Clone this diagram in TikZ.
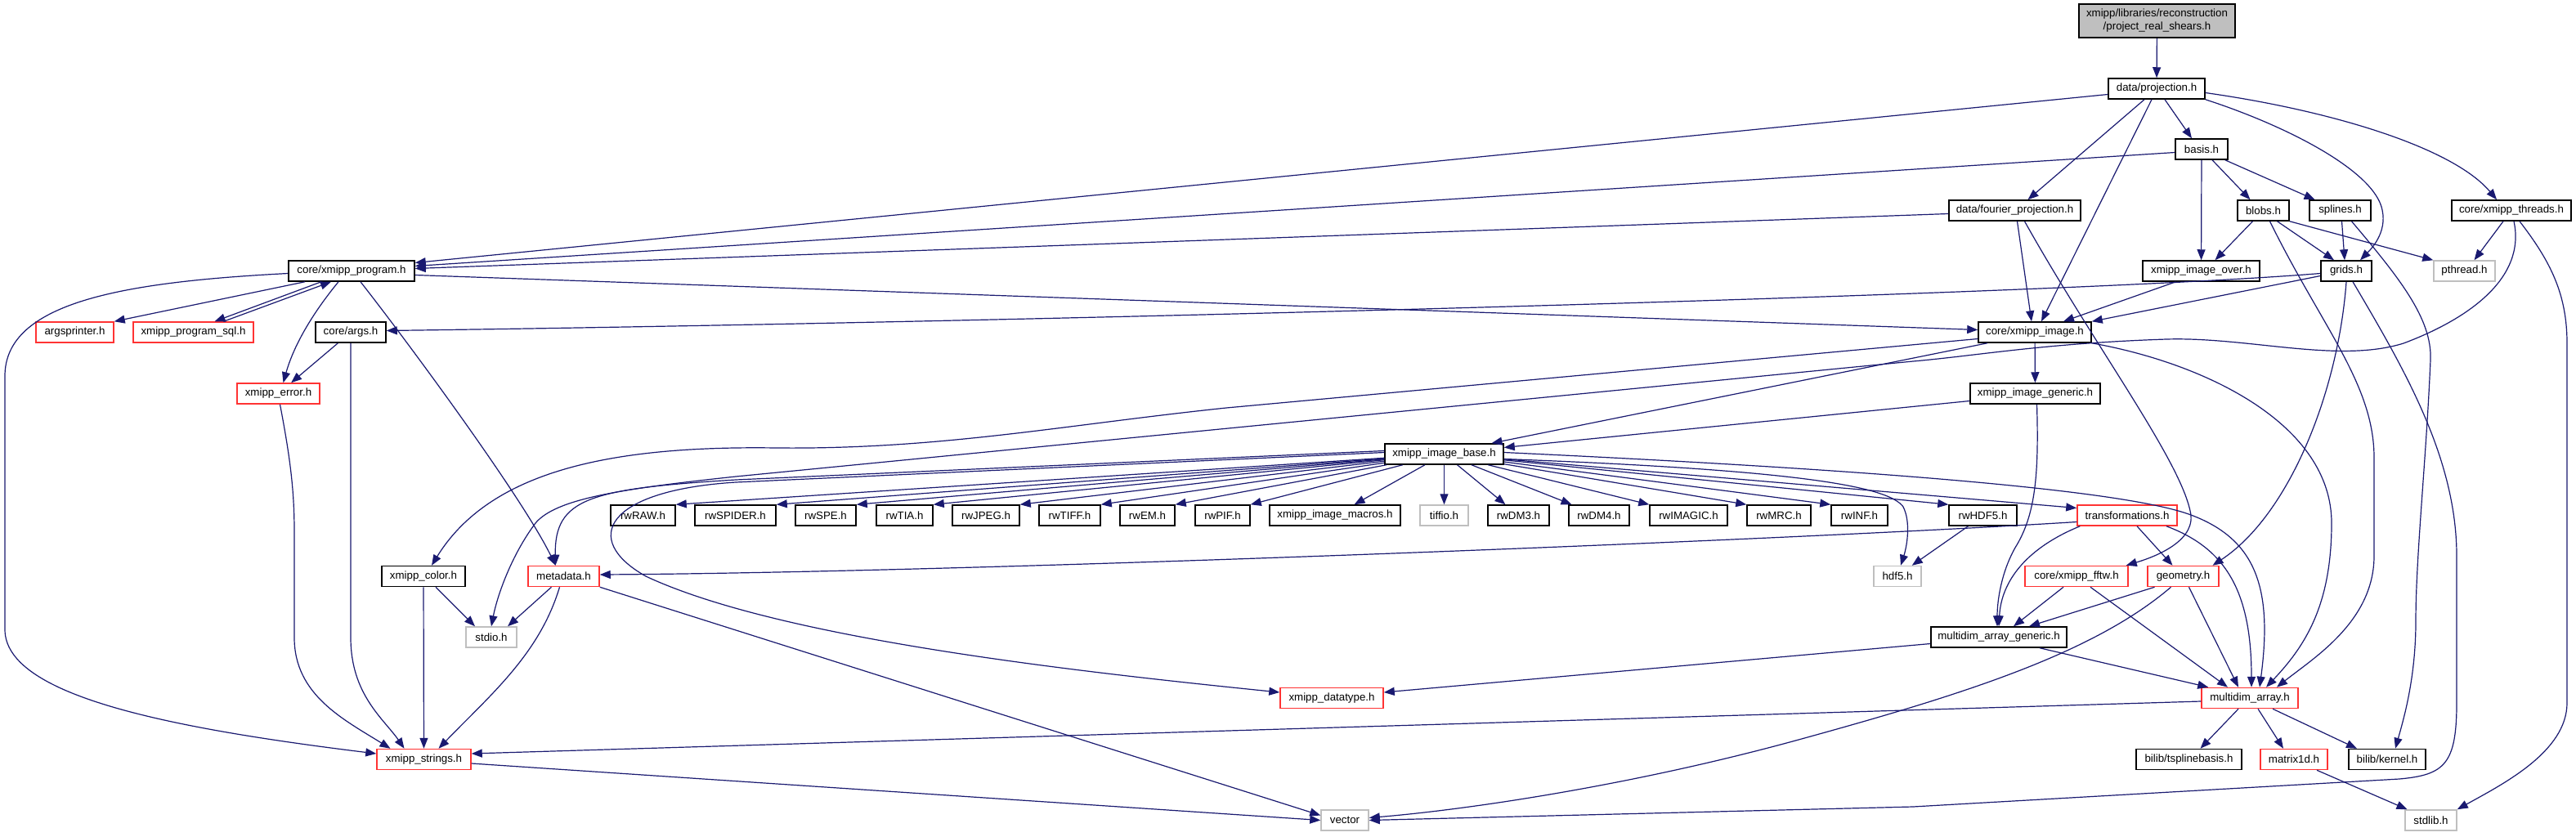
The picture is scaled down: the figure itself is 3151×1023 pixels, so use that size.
\documentclass[tikz,border=0pt]{standalone}
\usepackage{fontspec}
\setmainfont{Liberation Sans}
\usetikzlibrary{arrows.meta}
\definecolor{dxblue}{HTML}{191970}
\definecolor{dxred}{HTML}{FF3333}
\definecolor{dxgray}{HTML}{BFBFBF}
\newcommand{\dxfont}{\fontsize{13.3pt}{16pt}\selectfont}
\tikzset{
  box/.style={draw=black, line width=1.5pt, fill=white, inner sep=0pt, minimum height=25pt, font=\dxfont, text=black},
  redbox/.style={box, draw=dxred},
  sysbox/.style={box, draw=dxgray},
  rootbox/.style={box, fill=dxgray, minimum height=41pt, align=center},
  dep/.style={draw=dxblue, line width=1.2pt, -{Triangle[length=13pt,width=10pt]}}
}
\begin{document}
\begin{tikzpicture}[x=1pt,y=-1pt]
\fill[white] (0,0) rectangle (3151,1023);
\useasboundingbox (0,0) rectangle (3151,1023);
% nodes
\node[rootbox, minimum width=191pt] (root) at (2638.5,25.5) {xmipp/libraries/reconstruction\\/project\_real\_shears.h};
\node[box, minimum width=118pt] (proj) at (2638,108.5) {data/projection.h};
\node[box, minimum width=64pt] (basis) at (2693,182.5) {basis.h};
\node[box, minimum width=161pt] (fourier) at (2464.5,257.5) {data/fourier\_projection.h};
\node[box, minimum width=63pt] (blobs) at (2768.5,257.5) {blobs.h};
\node[box, minimum width=75pt] (splines) at (2862.5,257.5) {splines.h};
\node[box, minimum width=146pt] (threads) at (3072,257.5) {core/xmipp\_threads.h};
\node[box, minimum width=143pt] (over) at (2692.5,331.5) {xmipp\_image\_over.h};
\node[box, minimum width=62pt] (grids) at (2870,331.5) {grids.h};
\node[sysbox, minimum width=75pt] (pthread) at (3014.5,331.5) {pthread.h};
\node[box, minimum width=154pt] (program) at (430,331.5) {core/xmipp\_program.h};
\node[redbox, minimum width=95pt] (argsprinter) at (91.5,406.5) {argsprinter.h};
\node[redbox, minimum width=147pt] (sql) at (236.5,406.5) {xmipp\_program\_sql.h};
\node[box, minimum width=86pt] (args) at (429,406.5) {core/args.h};
\node[box, minimum width=138pt] (image) at (2489,406.5) {core/xmipp\_image.h};
\node[redbox, minimum width=101pt] (error) at (340.5,481.5) {xmipp\_error.h};
\node[box, minimum width=159pt] (generic) at (2489.5,481.5) {xmipp\_image\_generic.h};
\node[box, minimum width=145pt] (base) at (1766.5,555.5) {xmipp\_image\_base.h};
\node[box, minimum width=79pt] (rwRAW) at (786.5,630.5) {rwRAW.h};
\node[box, minimum width=99pt] (rwSPIDER) at (899.5,630.5) {rwSPIDER.h};
\node[box, minimum width=74pt] (rwSPE) at (1010,630.5) {rwSPE.h};
\node[box, minimum width=69pt] (rwTIA) at (1106.5,630.5) {rwTIA.h};
\node[box, minimum width=82pt] (rwJPEG) at (1206,630.5) {rwJPEG.h};
\node[box, minimum width=75pt] (rwTIFF) at (1308.5,630.5) {rwTIFF.h};
\node[box, minimum width=67pt] (rwEM) at (1403.5,630.5) {rwEM.h};
\node[box, minimum width=67pt] (rwPIF) at (1495.5,630.5) {rwPIF.h};
\node[box, minimum width=160pt] (macros) at (1633,630.5) {xmipp\_image\_macros.h};
\node[sysbox, minimum width=59pt] (tiffio) at (1766.5,630.5) {tiffio.h};
\node[box, minimum width=75pt] (rwDMthree) at (1857.5,630.5) {rwDM3.h};
\node[box, minimum width=74pt] (rwDMfour) at (1956,630.5) {rwDM4.h};
\node[box, minimum width=95pt] (rwIMAGIC) at (2065.5,630.5) {rwIMAGIC.h};
\node[box, minimum width=78pt] (rwMRC) at (2176,630.5) {rwMRC.h};
\node[box, minimum width=69pt] (rwINF) at (2274.5,630.5) {rwINF.h};
\node[box, minimum width=83pt] (rwHDF) at (2425.5,630.5) {rwHDF5.h};
\node[redbox, minimum width=122pt] (transf) at (2602,630.5) {transformations.h};
\node[box, minimum width=102pt] (color) at (518,705) {xmipp\_color.h};
\node[redbox, minimum width=87pt] (metadata) at (689.5,705) {metadata.h};
\node[sysbox, minimum width=58pt] (hdf) at (2321,705) {hdf5.h};
\node[redbox, minimum width=126pt] (fftw) at (2540,705) {core/xmipp\_fftw.h};
\node[redbox, minimum width=87pt] (geometry) at (2670.5,705) {geometry.h};
\node[sysbox, minimum width=62pt] (stdio) at (601,779.5) {stdio.h};
\node[box, minimum width=166pt] (mag) at (2445,779.5) {multidim\_array\_generic.h};
\node[redbox, minimum width=126pt] (datatype) at (1629,854) {xmipp\_datatype.h};
\node[redbox, minimum width=118pt] (multidim) at (2752,854) {multidim\_array.h};
\node[redbox, minimum width=115pt] (strings) at (518.5,929) {xmipp\_strings.h};
\node[box, minimum width=129pt] (tspline) at (2677.5,929) {bilib/tsplinebasis.h};
\node[redbox, minimum width=82pt] (matrix) at (2806,929) {matrix1d.h};
\node[box, minimum width=94pt] (kernel) at (2920,929) {bilib/kernel.h};
\node[sysbox, minimum width=58pt] (vector) at (1645,1003.5) {vector};
\node[sysbox, minimum width=63pt] (stdlib) at (2973.5,1003.5) {stdlib.h};
% edges
\draw[dep] (root) -- (proj);
\draw[dep] ([shift={(0,7)}]proj.west) -- ([shift={(0,-10)}]program.east);
\draw[dep] ([shift={(-15,0)}]proj.south) -- ([shift={(16,0)}]fourier.north);
\draw[dep] ([shift={(-6,0)}]proj.south) -- ([shift={(8,0)}]image.north);
\draw[dep] ([shift={(10,0)}]proj.south) -- ([shift={(-12,0)}]basis.north);
\draw[dep] (proj.south east) .. controls (2800,155) and (2905,210) .. (2914,257) .. controls (2920,285) and (2900,305) .. ([shift={(17,0)}]grids.north);
\draw[dep] ([shift={(0,5)}]proj.east) .. controls (2850,135) and (3000,180) .. ([shift={(-18,0)}]threads.north);
\draw[dep] ([shift={(0,4)}]basis.west) -- ([shift={(0,-6)}]program.east);
\draw[dep] (basis) -- (over);
\draw[dep] ([shift={(13,0)}]basis.south) -- ([shift={(-16,0)}]blobs.north);
\draw[dep] ([shift={(-4,0)}]basis.south east) -- ([shift={(-31,0)}]splines.north);
\draw[dep] ([shift={(0,4)}]fourier.west) -- ([shift={(0,-3)}]program.east);
\draw[dep] ([shift={(3,0)}]fourier.south) -- ([shift={(-4,0)}]image.north);
\draw[dep] ([shift={(12,0)}]fourier.south) .. controls (2560,420) and (2665,560) .. (2679,625) .. controls (2688,660) and (2640,680) .. ([shift={(-3,0)}]fftw.north east);
\draw[dep] ([shift={(-13,0)}]blobs.south) -- ([shift={(17,0)}]over.north);
\draw[dep] ([shift={(17,0)}]blobs.south) -- ([shift={(-15,0)}]grids.north);
\draw[dep] (blobs.south east) -- (pthread.north west);
\draw[dep] ([shift={(8,0)}]blobs.south) .. controls (2840,400) and (2904,470) .. (2904,560) -- (2904,680) .. controls (2904,760) and (2830,805) .. ([shift={(33,0)}]multidim.north);
\draw[dep] ([shift={(2,0)}]splines.south) -- ([shift={(-2,0)}]grids.north);
\draw[dep] ([shift={(14,0)}]splines.south) .. controls (2935,340) and (2975,390) .. (2973,440) .. controls (2968,560) and (2955,680) .. (2955,760) .. controls (2955,830) and (2940,880) .. ([shift={(10,0)}]kernel.north);
\draw[dep] ([shift={(-10,0)}]threads.south) -- ([shift={(12,0)}]pthread.north);
\draw[dep] ([shift={(10,0)}]threads.south) .. controls (3120,320) and (3140,360) .. (3140,420) -- (3140,860) .. controls (3140,920) and (3060,960) .. (stdlib.north east);
\draw[dep] ([shift={(3,0)}]threads.south) .. controls (3090,340) and (3020,390) .. (2940,420) .. controls (2860,445) and (2750,412) .. (2650,415) .. controls (2500,420) and (2420,435) .. (2340,442) -- (900,583) .. controls (760,598) and (680,610) .. (655,640) .. controls (625,680) and (608,730) .. (stdio.north);
\draw[dep] ([shift={(-57,0)}]program.south) -- (argsprinter.north east);
\draw[dep] ([shift={(-37,0)}]program.south) -- ([shift={(26,0)}]sql.north);
\draw[dep] ([shift={(37,0)}]sql.north) -- ([shift={(-25,0)}]program.south);
\draw[dep] ([shift={(-16,0)}]program.south) .. controls (385,380) and (360,420) .. ([shift={(6,0)}]error.north);
\draw[dep] ([shift={(11,0)}]program.south) .. controls (500,420) and (640,610) .. ([shift={(-10,0)}]metadata.north);
\draw[dep] ([shift={(0,3)}]program.west) .. controls (150,345) and (6,370) .. (6,460) -- (6,770) .. controls (6,850) and (200,890) .. ([shift={(0,-7)}]strings.west);
\draw[dep] ([shift={(0,5)}]program.east) -- ([shift={(0,-3)}]image.west);
\draw[dep] (args) -- (error);
\draw[dep] (args.south) -- (429,780) .. controls (429,850) and (470,880) .. ([shift={(-24,0)}]strings.north);
\draw[dep] ([shift={(2,0)}]error.south) .. controls (355,560) and (360,600) .. (360,650) -- (360,780) .. controls (360,850) and (420,880) .. ([shift={(-41,0)}]strings.north);
\draw[dep] (color) -- (strings);
\draw[dep] ([shift={(15,0)}]color.south) -- ([shift={(-20,0)}]stdio.north);
\draw[dep] ([shift={(-15,0)}]metadata.south) -- ([shift={(20,0)}]stdio.north);
\draw[dep] ([shift={(-5,0)}]metadata.south) .. controls (660,800) and (600,850) .. ([shift={(18,0)}]strings.north);
\draw[dep] (metadata.south east) -- ([shift={(0,-6)}]vector.west);
\draw[dep] ([shift={(0,5)}]strings.east) -- (vector.west);
\draw[dep] ([shift={(0,8)}]image.west) -- (1500,499) .. controls (1300,520) and (1150,550) .. (950,548) .. controls (750,545) and (600,575) .. ([shift={(10,0)}]color.north);
\draw[dep] ([shift={(-58,0)}]image.south) -- ([shift={(58,0)}]base.north);
\draw[dep] (image) -- (generic);
\draw[dep] (image.south east) .. controls (2700,445) and (2852,520) .. (2852,640) .. controls (2852,740) and (2820,790) .. ([shift={(20,0)}]multidim.north);
\draw[dep] ([shift={(0,9)}]generic.west) -- ([shift={(0,-8)}]base.east);
\draw[dep] ([shift={(2,0)}]generic.south) .. controls (2494,580) and (2490,630) .. (2465,670) .. controls (2448,700) and (2443,735) .. ([shift={(-2,0)}]mag.north);
\draw[dep] ([shift={(-31,0)}]over.south) -- ([shift={(35,0)}]image.north);
\draw[dep] ([shift={(0,6)}]grids.west) -- (image.north east);
\draw[dep] ([shift={(0,3)}]grids.west) .. controls (2500,362) and (1200,395) .. ([shift={(0,-2)}]args.east);
\draw[dep] (grids.south) .. controls (2860,480) and (2800,630) .. ([shift={(36,0)}]geometry.north);
\draw[dep] ([shift={(8,0)}]grids.south) .. controls (2940,450) and (3005,560) .. (3005,680) -- (3005,860) .. controls (3005,935) and (2990,948) .. (2935,953) -- (2340,987) -- (vector.east);
\draw[dep] ([shift={(-35,0)}]geometry.south) -- ([shift={(37,0)}]mag.north);
\draw[dep] ([shift={(7,0)}]geometry.south) -- ([shift={(-14,0)}]multidim.north);
\draw[dep] ([shift={(-15,0)}]geometry.south) .. controls (2560,800) and (2400,850) .. (2200,905) .. controls (2000,960) and (1800,990) .. ([shift={(0,-3)}]vector.east);
\draw[dep] ([shift={(-16,0)}]fftw.south) -- ([shift={(18,0)}]mag.north);
\draw[dep] ([shift={(17,0)}]fftw.south) -- ([shift={(-27,0)}]multidim.north);
\draw[dep] ([shift={(4,0)}]transf.south west) .. controls (2480,670) and (2448,710) .. (mag.north);
\draw[dep] ([shift={(12,0)}]transf.south) -- ([shift={(-13,0)}]geometry.north);
\draw[dep] ([shift={(48,0)}]transf.south) .. controls (2720,670) and (2754,720) .. ([shift={(2,0)}]multidim.north);
\draw[dep] ([shift={(0,8)}]transf.west) .. controls (2200,660) and (1200,700) .. ([shift={(0,-2)}]metadata.east);
\draw[dep] ([shift={(-18,0)}]rwHDF.south) -- ([shift={(-12,0)}]hdf.north east);
\draw[dep] ([shift={(50,0)}]mag.south) -- ([shift={(9,0)}]multidim.north west);
\draw[dep] ([shift={(0,8)}]mag.west) -- ([shift={(0,-7)}]datatype.east);
\draw[dep] ([shift={(-14,0)}]multidim.south) -- ([shift={(14,0)}]tspline.north);
\draw[dep] ([shift={(10,0)}]multidim.south) -- ([shift={(-13,0)}]matrix.north);
\draw[dep] ([shift={(28,0)}]multidim.south) -- ([shift={(-37,0)}]kernel.north);
\draw[dep] ([shift={(0,4)}]multidim.west) -- ([shift={(0,-7)}]strings.east);
\draw[dep] ([shift={(28,0)}]matrix.south) -- ([shift={(-29,0)}]stdlib.north);
% xmipp_image_base.h fan-out
\foreach \t in {rwRAW,rwSPIDER,rwSPE,rwTIA,rwJPEG,rwTIFF,rwEM,rwPIF}
  \draw[dep] (base) -- (\t.north east);
\draw[dep] (base) -- (macros);
\draw[dep] (base) -- (tiffio);
\draw[dep] (base) -- (rwDMthree);
\draw[dep] (base) -- (rwDMfour);
\foreach \t in {rwIMAGIC,rwMRC,rwINF,rwHDF}
  \draw[dep] (base) -- (\t.north west);
\draw[dep] (base) -- ([shift={(0,-9)}]transf.west);
\draw[dep] ([shift={(0,6)}]base.east) .. controls (2200,575) and (2310,595) .. (2328,620) .. controls (2338,640) and (2332,670) .. ([shift={(4,0)}]hdf.north);
\draw[dep] ([shift={(0,-2)}]base.east) .. controls (2300,575) and (2600,600) .. (2680,630) .. controls (2760,660) and (2780,720) .. ([shift={(12,0)}]multidim.north);
\draw[dep] ([shift={(0,-4)}]base.west) -- (900,587) .. controls (720,598) and (678,610) .. ([shift={(-10,0)}]metadata.north);
\draw[dep] ([shift={(0,-2)}]base.west) -- (900,590) .. controls (740,600) and (710,660) .. (790,705) .. controls (950,780) and (1300,820) .. ([shift={(0,-7)}]datatype.west);
\end{tikzpicture}
\end{document}
